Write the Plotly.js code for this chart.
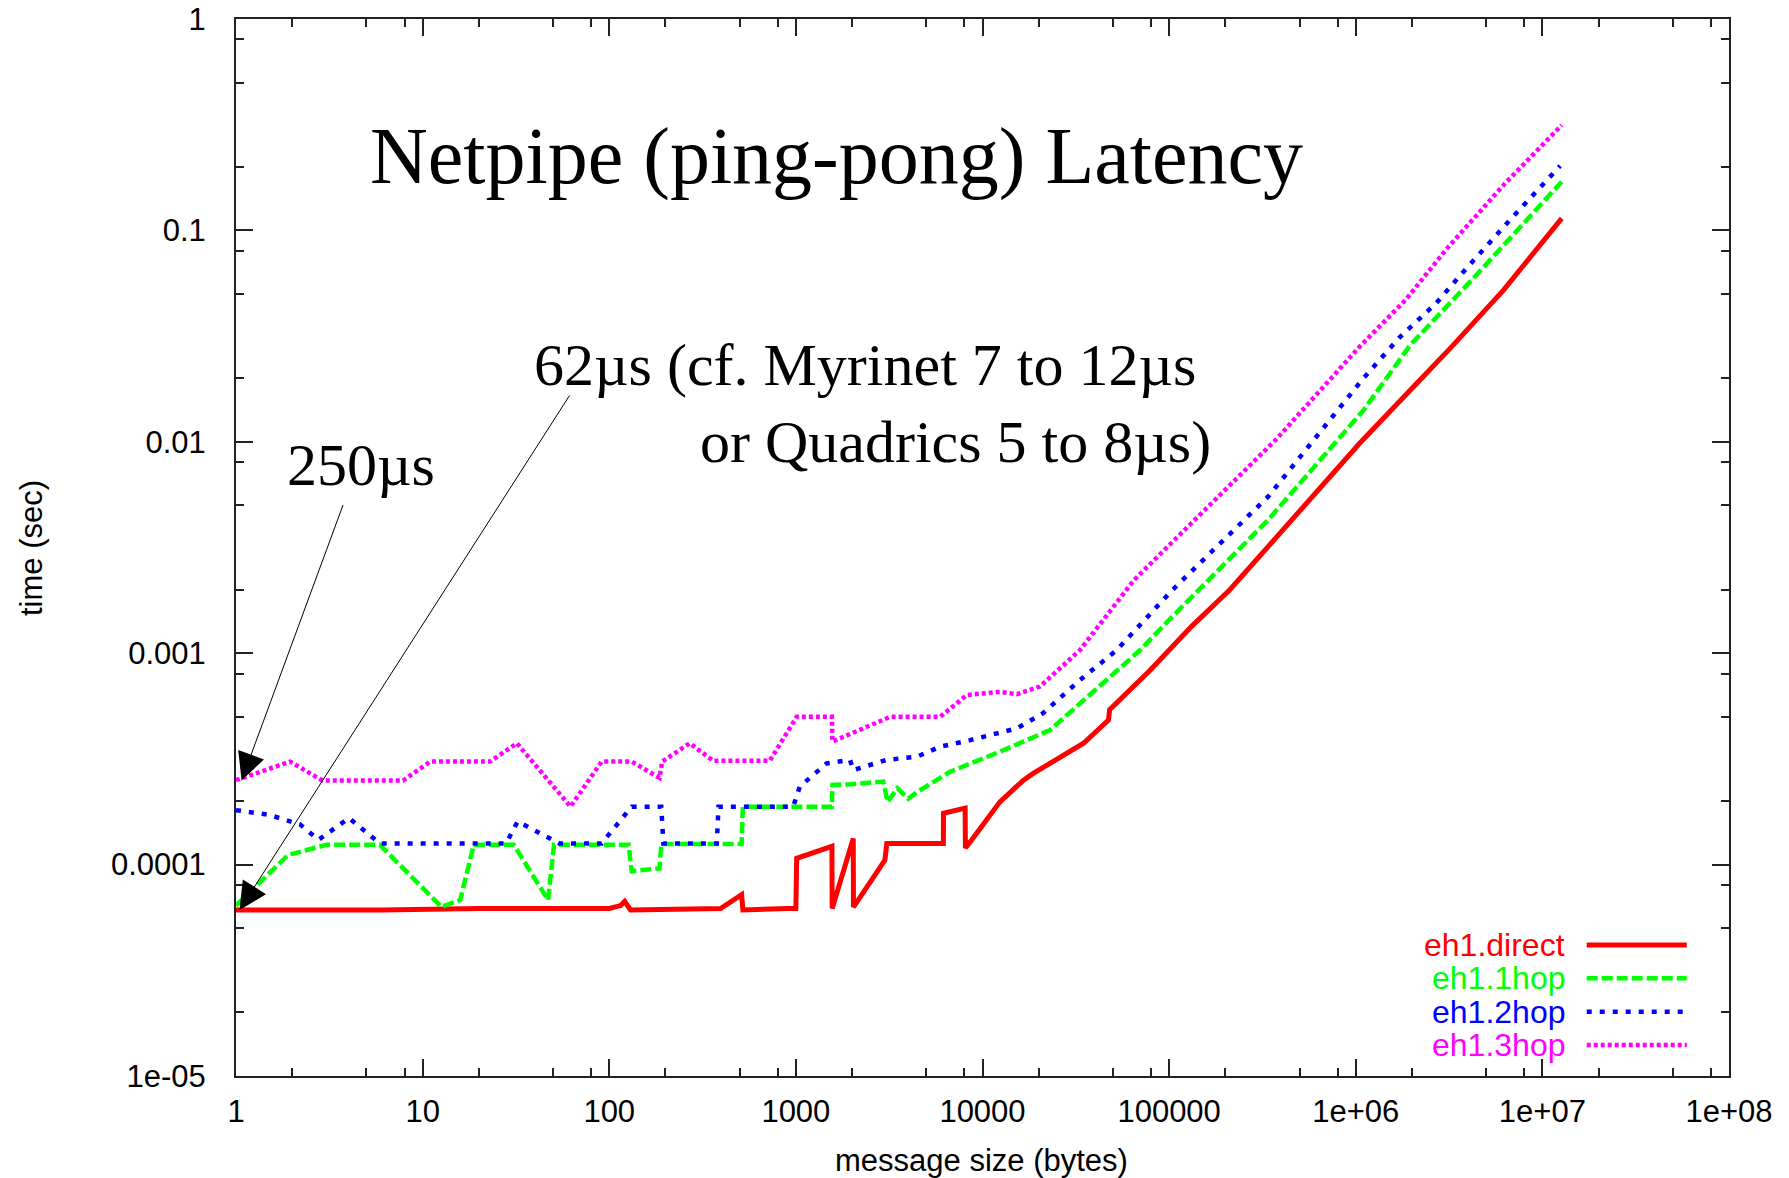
<!DOCTYPE html>
<html>
<head>
<meta charset="utf-8">
<script src="https://cdn.plot.ly/plotly-3.0.1.min.js"></script>
<style>
  html, body { margin: 0; padding: 0; background: #ffffff; }
  #chart { width: 1789px; height: 1178px; }
</style>
</head>
<body>
<div id="chart"></div>
<script>
// ---- Data ----
const seriesNames = ['eh1.direct', 'eh1.1hop', 'eh1.2hop', 'eh1.3hop'];

const xDirect = [1, 4, 6, 20, 40, 100, 115, 121, 130, 300, 395, 512, 520, 900, 1000, 1010, 1560, 1565, 2030, 2035, 3000, 3070, 6170, 6180, 8070, 8100, 8590, 12400, 16600, 18700, 34800, 47300, 48000, 79100, 132000, 211000, 391000, 1050000, 2040000, 3270000, 6190000, 12700000];
const tDirect = [6.1e-5, 6.1e-5, 6.1e-5, 6.2e-5, 6.2e-5, 6.2e-5, 6.4e-5, 6.7e-5, 6.1e-5, 6.2e-5, 6.2e-5, 7.2e-5, 6.1e-5, 6.2e-5, 6.2e-5, 1.07e-4, 1.22e-4, 6.2e-5, 1.33e-4, 6.3e-5, 1.05e-4, 1.26e-4, 1.26e-4, 1.75e-4, 1.85e-4, 1.2e-4, 1.28e-4, 1.98e-4, 2.51e-4, 2.7e-4, 3.75e-4, 4.83e-4, 5.4e-4, 8.3e-4, 1.34e-3, 1.99e-3, 3.69e-3, 9.84e-3, 1.82e-2, 2.82e-2, 5.22e-2, 0.114];

const x1hop = [1, 1.9, 3.05, 5.9, 12.6, 15.9, 18.8, 30.8, 47, 50.6, 127, 132, 186, 190, 512, 520, 1560, 1570, 1950, 2940, 3100, 3500, 4000, 4450, 6700, 12400, 23000, 34800, 70000, 104000, 339000, 1100000, 1960000, 4190000, 7300000, 12700000];
const t1hop = [6.4e-5, 1.11e-4, 1.24e-4, 1.24e-4, 6.32e-5, 6.8e-5, 1.24e-4, 1.24e-4, 6.8e-5, 1.24e-4, 1.24e-4, 9.3e-5, 9.6e-5, 1.25e-4, 1.25e-4, 1.88e-4, 1.88e-4, 2.38e-4, 2.4e-4, 2.47e-4, 1.98e-4, 2.3e-4, 2.05e-4, 2.2e-4, 2.75e-4, 3.42e-4, 4.33e-4, 6.0e-4, 1.035e-3, 1.49e-3, 4.27e-3, 1.41e-2, 2.87e-2, 5.83e-2, 0.1, 0.17];

const x2hop = [1, 1.5, 2.2, 2.77, 4.03, 5.9, 28, 32.3, 54, 91, 132, 190, 195, 377, 385, 967, 1050, 1460, 1950, 2030, 3070, 4450, 5930, 8590, 15300, 21100, 33300, 52400, 104000, 339000, 1080000, 1730000, 2700000, 3780000, 6700000, 12450000];
const t2hop = [1.81e-4, 1.72e-4, 1.55e-4, 1.31e-4, 1.66e-4, 1.26e-4, 1.26e-4, 1.6e-4, 1.26e-4, 1.26e-4, 1.88e-4, 1.88e-4, 1.26e-4, 1.26e-4, 1.88e-4, 1.88e-4, 2.34e-4, 3.01e-4, 3.13e-4, 2.8e-4, 3.13e-4, 3.24e-4, 3.61e-4, 3.88e-4, 4.41e-4, 5.2e-4, 7.47e-4, 1.035e-3, 1.99e-3, 5.5e-3, 1.96e-2, 3.14e-2, 4.53e-2, 6.38e-2, 0.112, 0.202];

const x3hop = [1, 1.95, 2.9, 7.85, 11, 23, 32, 62, 91, 132, 186, 192, 270, 360, 725, 1010, 1560, 1570, 3200, 5930, 8240, 12400, 15300, 20300, 33300, 64900, 132000, 372000, 1050000, 1850000, 3080000, 6200000, 12700000];
const t3hop = [2.51e-4, 3.07e-4, 2.5e-4, 2.5e-4, 3.07e-4, 3.07e-4, 3.75e-4, 1.88e-4, 3.07e-4, 3.07e-4, 2.57e-4, 3.07e-4, 3.75e-4, 3.1e-4, 3.1e-4, 5.0e-4, 5.0e-4, 3.82e-4, 5.0e-4, 5.0e-4, 6.34e-4, 6.57e-4, 6.4e-4, 6.95e-4, 1.035e-3, 2.22e-3, 4.13e-3, 1.02e-2, 2.82e-2, 4.69e-2, 8.2e-2, 0.164, 0.315];

const xTickVals = [1, 10, 100, 1000, 10000, 100000, 1e6, 1e7, 1e8];
const xTickText = ['1', '10', '100', '1000', '10000', '100000', '1e+06', '1e+07', '1e+08'];
const yTickVals = [1e-5, 1e-4, 1e-3, 1e-2, 1e-1, 1];
const yTickText = ['1e-05', '0.0001', '0.001', '0.01', '0.1', '1'];

const titleText = 'Netpipe (ping-pong) Latency';
const note62a = '62µs (cf. Myrinet 7 to 12µs';
const note62b = 'or Quadrics 5 to 8µs)';
const note250 = '250µs';
const xTitle = 'message size (bytes)';
const yTitle = 'time (sec)';

// ---- Styles ----
const colors = ['#ff0000', '#00ff00', '#0000ff', '#ff00ff'];
const dashes = ['solid', '11px,4px', '5px,8px', '4px,3px'];
const widths = [5, 4.5, 4.5, 4.5];

function minorVals(lo, hi) {
  const out = [];
  for (let e = lo; e < hi; e++) {
    [2, 5, 8].forEach(m => out.push(m * Math.pow(10, e)));
  }
  return out;
}

const xs = [xDirect, x1hop, x2hop, x3hop];
const ts = [tDirect, t1hop, t2hop, t3hop];

const traces = seriesNames.map((n, i) => ({
  type: 'scatter', mode: 'lines', name: n,
  x: xs[i], y: ts[i],
  line: { color: colors[i], width: widths[i], dash: dashes[i] },
  showlegend: false, hoverinfo: 'skip'
}));

const serif = 'Liberation Serif, Times New Roman, serif';
const sans = 'Liberation Sans, Arial, Helvetica, sans-serif';

const annotations = [
  { text: titleText, xref: 'paper', yref: 'paper', x: 0.402, y: 0.870, showarrow: false,
    font: { family: serif, size: 80, color: '#000' }, xanchor: 'center', yanchor: 'middle' },
  { text: note62a, xref: 'paper', yref: 'paper', x: 0.4213, y: 0.6727, showarrow: false,
    font: { family: serif, size: 60, color: '#000' }, xanchor: 'center', yanchor: 'middle' },
  { text: note62b, xref: 'paper', yref: 'paper', x: 0.4816, y: 0.5998, showarrow: false,
    font: { family: serif, size: 60, color: '#000' }, xanchor: 'center', yanchor: 'middle' },
  { text: note250, xref: 'paper', yref: 'paper', x: 0.0837, y: 0.578, showarrow: false,
    font: { family: serif, size: 60, color: '#000' }, xanchor: 'center', yanchor: 'middle' },
  // arrows
  { text: '', x: 0.03, y: Math.log10(2.5e-4), xref: 'x', yref: 'y', showarrow: true,
    ax: 102, ay: -277, arrowhead: 2, arrowsize: 5.5, arrowwidth: 1, arrowcolor: '#000', standoff: 0 },
  { text: '', x: 0.019, y: Math.log10(6.1e-5), xref: 'x', yref: 'y', showarrow: true,
    ax: 331, ay: -516, arrowhead: 2, arrowsize: 5.5, arrowwidth: 1, arrowcolor: '#000', standoff: 0 },
  // axis titles
  { text: xTitle, xref: 'paper', yref: 'paper', x: 0.499, y: -0.0795, showarrow: false,
    font: { family: sans, size: 31, color: '#000' }, xanchor: 'center', yanchor: 'middle' },
  { text: yTitle, xref: 'paper', yref: 'paper', x: -0.1373, y: 0.4995, showarrow: false, textangle: -90,
    font: { family: sans, size: 31, color: '#000' }, xanchor: 'center', yanchor: 'middle' }
];

const legendY = [0.1239, 0.0924, 0.0608, 0.0293];
const shapes = [];
seriesNames.forEach((n, i) => {
  annotations.push({ text: n, xref: 'paper', yref: 'paper', x: 0.8913, y: legendY[i], showarrow: false,
    font: { family: sans, size: 32, color: colors[i] }, xanchor: 'right', yanchor: 'middle' });
  shapes.push({ type: 'line', xref: 'paper', yref: 'paper', x0: 0.9047, x1: 0.9717, y0: legendY[i], y1: legendY[i],
    line: { color: colors[i], width: widths[i], dash: dashes[i] } });
});

const axisCommon = {
  showline: true, linecolor: '#222', linewidth: 2, mirror: 'ticks',
  ticks: 'inside', ticklen: 17, tickwidth: 2, tickcolor: '#222',
  showgrid: false, zeroline: false,
  tickfont: { family: sans, size: 31, color: '#000' }
};

const layout = {
  width: 1789, height: 1178,
  margin: { l: 236, r: 60, t: 19, b: 102 },
  paper_bgcolor: '#ffffff', plot_bgcolor: '#ffffff',
  showlegend: false,
  xaxis: Object.assign({}, axisCommon, {
    type: 'log', range: [0, 8], tickmode: 'array', tickvals: xTickVals, ticktext: xTickText,
    ticklabelstandoff: 7,
    minor: { tickvals: minorVals(0, 8), ticks: 'inside', ticklen: 8, tickwidth: 2, tickcolor: '#222', showgrid: false }
  }),
  yaxis: Object.assign({}, axisCommon, {
    type: 'log', range: [-5, 0], tickmode: 'array', tickvals: yTickVals, ticktext: yTickText,
    ticklabelstandoff: 22,
    minor: { tickvals: minorVals(-5, 0), ticks: 'inside', ticklen: 8, tickwidth: 2, tickcolor: '#222', showgrid: false }
  }),
  annotations: annotations,
  shapes: shapes
};

Plotly.newPlot('chart', traces, layout, { staticPlot: true, displayModeBar: false });
</script>
</body>
</html>
